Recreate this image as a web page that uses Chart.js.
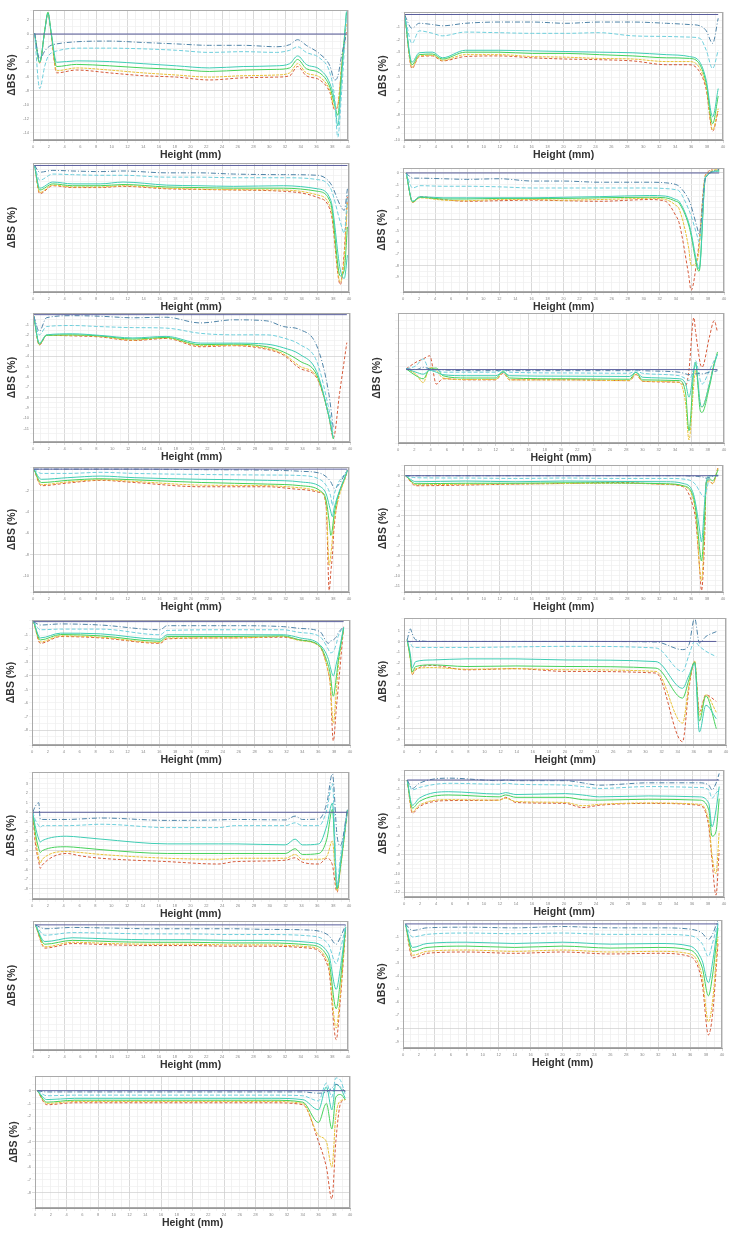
<!DOCTYPE html>
<html>
<head>
<meta charset="utf-8">
<script src="https://cdn.jsdelivr.net/npm/chart.js@4.4.1/dist/chart.umd.min.js"></script>
<style>
  body { margin: 0; background: #fff; }
  #page { position: relative; width: 733px; height: 1241px; overflow: hidden; }
  .panel { position: absolute; }
</style>
</head>
<body>
<div id="page"></div>
<script>
// heights (mm) and delta BS (%); series go blue, cyan, teal, green, orange, red
const p1x = [0.2, 0.85, 1.5, 1.9, 2.3, 3.0, 5.5, 9.7, 14, 18.2, 22.4, 26.7, 30.9, 32.6, 33.6, 34.7, 36.4, 37.7, 38.3, 38.7, 39.2, 39.8];
const p1b = [0.1, -3.5, -2.4, -1.9, -1.6, -1.4, -1.1, -1.0, -1.2, -1.4, -1.6, -1.6, -1.8, -1.5, -0.8, -1.6, -2.8, -4.5, -6.5, -6.0, -3.0, 0.2];
const p1c = [0.1, -7.7, -4.5, -3.2, -2.7, -2.4, -2.0, -2.0, -2.1, -2.3, -2.6, -2.5, -2.6, -2.3, -1.8, -2.6, -3.4, -5.5, -9.0, -14.6, -8.0, 2.6];
const p1t = [0.1, -4.0, 0.5, 2.9, 0.3, -4.0, -3.8, -3.9, -4.2, -4.5, -4.8, -4.6, -4.5, -4.2, -3.1, -4.3, -5.0, -7.0, -9.5, -13.0, -6.0, 3.2];
const p1g = [0.1, -4.0, 0.6, 3.1, 0.2, -4.6, -4.3, -4.5, -4.8, -5.0, -5.3, -5.1, -5.0, -4.8, -3.6, -4.9, -5.5, -7.5, -10.0, -11.5, -5.0, 3.0];
const p1o = [0.1, -4.1, 0.6, 3.0, 0.1, -5.2, -4.8, -5.1, -5.5, -5.8, -6.1, -5.9, -5.8, -5.5, -4.2, -5.5, -6.1, -8.0, -10.5, -10.0, -4.5, 1.5];
const p1r = [0.1, -4.1, 0.5, 2.9, 0.0, -5.5, -5.1, -5.5, -5.9, -6.1, -6.5, -6.2, -6.1, -5.9, -4.6, -5.9, -6.5, -8.3, -10.7, -10.2, -4.6, 0.5];

const p2x = [0.1, 1.0, 1.9, 3.6, 4.8, 7.7, 11.9, 16.1, 20.3, 24.5, 28.7, 32.9, 35.8, 37.1, 37.9, 38.7, 39.4];
const p2b = [-0.07, -1.1, -0.7, -0.8, -0.9, -0.7, -0.6, -0.6, -0.7, -0.6, -0.6, -0.7, -0.8, -0.9, -1.3, -2.3, -0.3];
const p2c = [-0.07, -2.3, -1.3, -1.5, -1.7, -1.4, -1.45, -1.5, -1.5, -1.45, -1.7, -1.75, -1.8, -1.9, -2.85, -4.3, -2.85];
const p2t = [-0.07, -3.8, -3.05, -3.0, -3.45, -2.85, -2.85, -2.9, -2.95, -3.0, -3.05, -3.2, -3.35, -3.8, -5.25, -8.15, -5.9];
const p2g = [-0.07, -4.0, -3.2, -3.15, -3.55, -3.0, -3.0, -3.1, -3.1, -3.2, -3.3, -3.45, -3.5, -4.0, -5.5, -8.7, -6.5];
const p2o = [-0.07, -4.2, -3.3, -3.25, -3.65, -3.2, -3.2, -3.35, -3.4, -3.5, -3.55, -3.75, -3.75, -4.3, -5.8, -9.2, -7.5];
const p2r = [-0.07, -4.3, -3.35, -3.3, -3.7, -3.35, -3.3, -3.45, -3.55, -3.6, -3.7, -4.0, -4.0, -4.6, -6.0, -9.3, -7.7];

const p3x = [0.2, 0.85, 2.5, 5, 8.5, 11.4, 16.9, 21, 25.4, 31.7, 36, 37.7, 38.9, 39.4, 39.8];
const p3b = [0, -0.55, -0.4, -0.45, -0.5, -0.45, -0.6, -0.6, -0.7, -0.75, -0.8, -1.5, -3.25, -3.65, -1.9];
const p3c = [0, -1.2, -0.7, -0.75, -0.8, -0.8, -0.95, -0.95, -1.0, -1.0, -1.15, -1.9, -4.6, -5.5, -2.4];
const p3t = [0, -1.85, -1.35, -1.5, -1.5, -1.35, -1.6, -1.65, -1.7, -1.65, -1.9, -2.85, -8.5, -9.2, -7.3];
const p3g = [0, -2.0, -1.5, -1.65, -1.65, -1.55, -1.75, -1.8, -1.85, -1.85, -2.1, -3.1, -9.0, -8.5, -5.0];
const p3o = [0, -2.2, -1.6, -1.75, -1.75, -1.65, -1.85, -1.92, -1.97, -2.0, -2.4, -3.5, -9.5, -7.5, -3.0];
const p3r = [0, -2.3, -1.65, -1.8, -1.8, -1.7, -1.9, -1.95, -2.0, -2.1, -2.6, -3.8, -9.7, -7.0, -2.4];

const p4x = [0.4, 1.2, 2.1, 5, 7.9, 12, 16.2, 20, 24.5, 30.7, 32.7, 34, 34.4, 35.6, 35.9, 36.7, 36.9, 37.7, 39.4];
const p4b = [0, -0.45, -0.45, -0.5, -0.55, -0.5, -0.7, -0.7, -0.8, -0.8, -0.85, -1.0, -1.15, -2.3, -2.85, -4.85, -5.3, -0.45, 0.3];
const p4c = [0, -1.3, -1.1, -1.15, -1.15, -1.2, -1.3, -1.3, -1.3, -1.3, -1.35, -1.45, -1.55, -3.15, -3.7, -5.55, -6.0, -0.3, 0.15];
const p4t = [0, -2.45, -2.05, -2.15, -2.15, -2.15, -2.15, -2.1, -2.05, -1.95, -2.0, -2.3, -2.45, -4.3, -5.15, -8.0, -8.3, -0.35, 0.15];
const p4g = [0, -2.5, -2.1, -2.25, -2.25, -2.2, -2.2, -2.2, -2.15, -2.1, -2.15, -2.45, -2.6, -4.5, -5.4, -8.3, -8.5, -0.4, 0.2];
const p4o = [0, -2.55, -2.15, -2.35, -2.4, -2.3, -2.3, -2.35, -2.3, -2.2, -2.3, -2.8, -3.1, -6.5, -8.0, -7.5, -6.5, -0.2, 0.3];
const p4r = [0, -2.55, -2.05, -2.3, -2.45, -2.4, -2.35, -2.4, -2.45, -2.3, -2.45, -3.7, -4.3, -8.85, -10.15, -7.15, -6.0, -0.15, 0.45];

const p5x = [0.1, 0.8, 1.7, 5, 8.4, 12.6, 16.8, 21.1, 25.3, 29.5, 31.6, 33.7, 35.8, 37.3, 37.9, 38.7, 39.6];
const p5b = [-0.15, -1.6, -0.3, -0.1, -0.15, -0.3, -0.25, -0.8, -0.5, -0.6, -1.15, -1.45, -3.0, -7.5, -11.0, null, null];
const p5c = [-0.15, -1.95, -1.15, -1.05, -1.15, -1.25, -1.3, -1.8, -1.95, -1.95, -2.25, -2.9, -4.5, -9.0, -11.45, null, null];
const p5t = [-0.15, -2.75, -1.95, -1.85, -2.0, -2.25, -2.1, -2.75, -2.75, -2.85, -3.2, -3.85, -5.5, -9.7, -11.95, null, null];
const p5g = [-0.15, -2.85, -2.0, -1.95, -2.05, -2.35, -2.2, -2.9, -2.85, -3.1, -3.6, -4.5, -5.8, -9.7, -12.0, null, null];
const p5o = [-0.15, -2.9, -2.0, -2.0, -2.1, -2.45, -2.25, -3.0, -2.95, -3.25, -3.8, -5.0, -6.0, -9.7, -12.0, null, null];
const p5r = [-0.15, -2.95, -2.0, -2.05, -2.15, -2.5, -2.3, -3.1, -3.0, -3.35, -3.9, -5.2, -6.1, -9.7, -11.9, -7.5, -2.7];

const p6x = [1.0, 2.2, 3.1, 3.9, 4.7, 5.5, 8.4, 12, 12.9, 13.7, 20.6, 28.4, 29.2, 30, 34.5, 35.3, 35.7, 36.3, 36.5, 37.1, 37.3, 38.2, 38.8, 39.2];
const p6b = [0.05, 0, 0.15, 0.05, 0, -0.02, -0.07, -0.07, -0.02, -0.07, -0.07, -0.07, -0.02, -0.07, -0.17, -0.28, -0.33, -0.28, -0.28, -0.24, -0.28, -0.17, -0.13, -0.07];
const p6c = [0.05, 0.25, 0.7, -0.05, -0.05, -0.17, -0.17, -0.17, -0.02, -0.17, -0.22, -0.24, -0.07, -0.24, -0.4, -0.6, -0.72, 0.15, 0.6, -0.72, -0.95, -0.07, 0.6, 1.0];
const p6t = [0.05, -0.17, -0.3, -0.05, -0.17, -0.33, -0.4, -0.4, -0.17, -0.4, -0.43, -0.45, -0.17, -0.5, -0.6, -0.95, -1.8, -0.05, 0.35, -2.25, -2.45, -0.95, 0.35, 1.0];
const p6g = [0.05, -0.4, -0.6, 0.05, 0.1, -0.4, -0.55, -0.55, -0.1, -0.55, -0.6, -0.63, -0.17, -0.67, -0.72, -1.6, -4.0, -0.05, 0.48, -2.7, -2.8, -1.15, 0.35, 1.15];
const p6o = [0.05, -0.3, -0.85, 0.15, -0.05, -0.55, -0.65, -0.65, -0.17, -0.67, -0.67, -0.72, -0.28, -0.76, -0.83, -2.25, -4.6, -0.95, -0.05, -2.25, -2.45, -0.95, 0.48, 1.0];
const p6r = [0.05, 0.48, 0.7, 0.9, -0.95, -0.6, -0.67, -0.67, -0.24, -0.67, -0.67, -0.72, -0.33, -0.76, -0.83, -1.05, -0.05, 3.4, 2.55, 0.37, 0.15, 2.1, 3.2, 2.45];

const p7x = [0.1, 1.05, 4.4, 8.6, 12.8, 21.3, 29.7, 33.9, 36.4, 37.1, 37.5, 37.7, 37.9, 38.1, 39.8];
const p7b = [0, 0, 0, 0, 0, -0.05, -0.1, -0.2, -0.4, -0.7, -1.0, -1.2, -1.5, -1.8, -0.1];
const p7c = [0, -0.4, -0.4, -0.3, -0.4, -0.5, -0.55, -0.6, -1.0, -1.5, -2.1, -2.6, -3.4, -2.45, -0.1];
const p7t = [0, -0.95, -0.8, -0.65, -0.8, -0.95, -1.05, -1.2, -1.65, -2.3, -3.4, -4.0, -4.45, -3.7, -0.1];
const p7g = [0, -1.25, -1.05, -0.9, -1.0, -1.25, -1.4, -1.55, -2.05, -2.9, -4.95, -6.2, -5.6, -4.3, -0.1];
const p7o = [0, -1.45, -1.2, -1.0, -1.15, -1.5, -1.55, -1.75, -2.15, -3.2, -9.0, -8.0, -6.5, -5.0, -0.1];
const p7r = [0, -1.55, -1.3, -1.05, -1.25, -1.65, -1.65, -1.9, -2.2, -3.4, -11.35, -9.6, -8.05, -5.55, -0.1];

const p8x = [0.2, 1.5, 7.7, 14, 20.3, 26.6, 32.9, 35, 36.2, 36.6, 37.1, 37.3, 37.7, 37.9, 38.3, 38.7, 39.4];
const p8b = [0, 0, 0, 0, 0, 0, 0, 0, -0.05, -0.05, -0.1, -0.1, -0.2, -0.25, -0.15, -0.05, 0];
const p8c = [0, -0.2, -0.23, -0.27, -0.23, -0.27, -0.27, -0.33, -0.6, -0.93, -1.6, -1.87, -2.1, -1.6, -0.2, 0, 0];
const p8t = [0, -0.6, -0.53, -0.6, -0.53, -0.57, -0.6, -0.77, -1.6, -2.93, -5.6, -6.6, -2.6, -0.6, 0, 0, 0.07];
const p8g = [0, -0.8, -0.75, -0.75, -0.7, -0.72, -0.8, -1.0, -1.9, -3.5, -7.5, -8.5, -4.0, -0.8, -0.3, -0.5, 0.6];
const p8o = [0, -0.9, -0.85, -0.82, -0.78, -0.75, -0.85, -1.05, -2.2, -4.0, -9.5, -10.5, -5.0, -0.7, -0.6, -0.8, 0.8];
const p8r = [0, -1.0, -0.93, -0.83, -0.77, -0.67, -0.87, -1.1, -2.93, -4.6, -9.6, -11.45, -6.25, -0.6, -0.43, -0.77, 0.9];

const p9x = [0.2, 1.05, 3.6, 8.6, 16.1, 17, 25.3, 31.6, 33.7, 36.2, 37.3, 37.5, 37.9, 38.3, 38.5, 39.2];
const p9b = [0, -0.25, -0.17, -0.25, -0.6, -0.3, -0.3, -0.37, -0.5, -0.73, -1.6, -1.45, -1.35, -1.1, -0.85, -0.37];
const p9c = [0, -0.6, -0.55, -0.55, -0.97, -0.65, -0.6, -0.6, -0.8, -1.1, -2.07, -2.3, -2.2, -1.6, -1.1, -0.4];
const p9t = [0, -1.2, -0.85, -0.9, -1.3, -0.97, -0.97, -0.97, -1.2, -1.7, -2.8, -3.3, -4.0, -3.05, -2.55, -0.4];
const p9g = [0, -1.35, -0.95, -1.05, -1.45, -1.1, -1.1, -1.05, -1.35, -1.8, -3.3, -3.8, -5.5, -4.0, -3.0, -0.5];
const p9o = [0, -1.5, -1.05, -1.15, -1.55, -1.2, -1.2, -1.1, -1.4, -1.85, -3.8, -4.5, -7.5, -5.0, -3.5, -0.45];
const p9r = [0, -1.6, -1.1, -1.2, -1.6, -1.27, -1.2, -1.15, -1.35, -1.85, -3.8, -4.5, -8.8, -6.25, -5.0, -0.37];

const p10x = [0.4, 0.8, 1.0, 1.45, 3.5, 7.7, 13.9, 20.1, 31.3, 34.6, 35.4, 36.1, 36.7, 37.5, 38.8];
const p10b = [0.15, 1.15, 0.75, 0.15, 0, 0, 0, 0, -0.05, -0.75, -0.3, 2.15, -0.15, 0.45, 0.9];
const p10c = [0.15, -0.15, -0.45, -0.55, -0.55, -0.55, -0.5, -0.45, -0.6, -2.75, -1.25, 0, -0.45, -0.9, -1.4];
const p10t = [0.15, -1.25, -2.45, -1.85, -1.7, -1.6, -1.6, -1.7, -1.85, -4.3, -3.1, -2.0, -8.3, -5.85, -7.1];
const p10g = [0.15, -1.6, -2.8, -2.3, -2.15, -2.3, -2.25, -2.3, -2.45, -5.2, -3.5, -1.9, -7.3, -5.0, -8.0];
const p10o = [0.15, -1.8, -3.0, -2.5, -2.4, -2.55, -2.5, -2.6, -2.75, -7.5, -4.0, -1.8, -6.8, -4.9, -6.5];
const p10r = [0.15, -1.55, -3.05, -2.6, -2.2, -2.6, -2.5, -2.75, -2.9, -9.2, -4.3, -1.85, -6.45, -4.9, -5.5];

const p11x = [0.1, 0.4, 0.85, 1.05, 1.3, 4.4, 6.1, 8.7, 17.1, 23.5, 25.6, 32, 33.2, 34.1, 36.2, 37.2, 37.9, 38.5, 38.9, 39.8];
const p11b = [0, 0.6, 1.0, -0.75, -0.75, -0.75, -0.7, -0.6, -0.85, -0.8, -0.75, -0.8, -0.4, -0.75, -0.7, 0.95, 4.0, -2.5, -3.5, 0.3];
const p11c = [0, -0.75, -1.4, -1.6, -1.4, -1.4, -1.35, -1.25, -1.6, -1.6, -1.4, -1.4, -1.1, -1.4, -1.4, 0.25, 3.0, -7.5, -4.8, 0.1];
const p11t = [0, -1.4, -2.8, -3.1, -2.95, -2.5, -2.6, -2.8, -3.3, -3.3, -3.3, -3.4, -2.8, -3.4, -3.3, -1.4, 0.95, -7.85, -5.5, 0.25];
const p11g = [0, -2.0, -3.8, -4.2, -4.0, -3.6, -3.7, -3.9, -4.3, -4.3, -4.3, -4.3, -3.8, -4.4, -4.3, -2.8, 0.3, -8.0, -5.8, 0.2];
const p11o = [0, -2.4, -4.8, -5.3, -4.9, -4.1, -4.2, -4.4, -4.8, -4.9, -4.8, -4.8, -4.4, -4.9, -4.9, -4.6, -3.0, -8.2, -6.0, 0.1];
const p11r = [0, -3.1, -5.15, -5.85, -5.5, -4.3, -4.55, -4.8, -5.15, -5.4, -5.15, -5.0, -4.75, -5.2, -5.4, -4.8, -5.5, -8.35, -5.85, 0.25];

const p12x = [0.4, 1.05, 1.9, 5.6, 11.9, 12.7, 14, 20.2, 22.3, 24.4, 30.6, 36.9, 38.1, 38.5, 39, 39.4];
const p12b = [0, -0.9, -0.35, 0.2, -0.07, 0, -0.07, -0.07, -0.3, -0.55, -0.3, -0.3, -0.55, -1.05, -0.35, 0.7];
const p12c = [0, -1.05, -0.8, -0.35, -0.45, -0.35, -0.45, -0.55, -0.7, -0.9, -0.7, -0.8, -1.05, -1.95, -1.4, -1.05];
const p12t = [0, -2.7, -1.95, -1.25, -1.5, -1.35, -1.55, -1.45, -1.6, -1.8, -1.7, -1.8, -2.5, -5.0, -3.2, -0.7];
const p12g = [0, -3.0, -2.3, -1.6, -1.8, -1.6, -1.85, -1.85, -2.1, -2.15, -2.05, -2.15, -3.2, -6.0, -5.5, -2.0];
const p12o = [0, -3.4, -2.7, -2.1, -2.15, -1.95, -2.3, -2.4, -2.75, -2.6, -2.45, -2.6, -4.5, -8.0, -10.0, -5.5];
const p12r = [0, -3.55, -2.85, -2.2, -2.15, -1.85, -2.4, -2.5, -2.95, -2.7, -2.5, -2.7, -5.0, -8.55, -12.3, -7.5];

const p13x = [0.3, 1.5, 5, 10, 15, 20, 25, 30, 35, 37.5, 38.5, 39, 39.7];
const p13b = [0, -0.3, -0.2, -0.25, -0.3, -0.3, -0.3, -0.35, -0.4, -0.8, -1.5, -1.0, 0];
const p13c = [0, -0.8, -0.6, -0.65, -0.7, -0.7, -0.75, -0.75, -0.85, -1.5, -3.0, -2.0, -0.1];
const p13t = [0, -1.3, -1.0, -1.1, -1.15, -1.15, -1.2, -1.2, -1.35, -2.2, -5.0, -3.5, -0.2];
const p13g = [0, -1.5, -1.2, -1.3, -1.35, -1.35, -1.4, -1.4, -1.55, -2.6, -6.5, -4.5, -0.2];
const p13o = [0, -1.7, -1.35, -1.45, -1.5, -1.5, -1.55, -1.55, -1.7, -3.0, -8.0, -5.5, -0.3];
const p13r = [0, -1.8, -1.45, -1.55, -1.6, -1.6, -1.65, -1.65, -1.8, -3.3, -8.9, -6.0, -0.3];

const p14x = [0.3, 1.2, 3, 8, 14, 20, 26, 32, 36, 37.5, 38.3, 38.8, 39.5];
const p14b = [0, -0.5, -0.3, -0.25, -0.3, -0.2, -0.3, -0.3, -0.4, -0.7, -1.2, -0.8, 0.3];
const p14c = [0, -1.0, -0.8, -0.7, -0.75, -0.7, -0.8, -0.8, -0.9, -1.5, -2.5, -1.5, 0.1];
const p14t = [0, -1.8, -1.5, -1.4, -1.5, -1.4, -1.55, -1.5, -1.7, -2.8, -4.5, -3.0, 0];
const p14g = [0, -2.1, -1.8, -1.7, -1.8, -1.7, -1.85, -1.8, -2.0, -3.3, -5.5, -4.0, -0.3];
const p14o = [0, -2.4, -2.1, -2.0, -2.1, -2.0, -2.15, -2.1, -2.3, -4.0, -7.5, -6.0, -1.0];
const p14r = [0, -2.6, -2.25, -2.15, -2.25, -2.15, -2.3, -2.25, -2.5, -4.5, -8.5, -7.0, -1.5];

const p15x = [0.3, 1.5, 5, 10, 15, 20, 25, 30, 34, 36, 37, 37.7, 38.2, 38.8, 39.4];
const p15b = [0, -0.1, -0.1, -0.1, -0.1, -0.1, -0.1, -0.1, -0.1, -0.2, -0.1, 0.2, 0.5, 0.3, -0.1];
const p15c = [0, -0.4, -0.35, -0.35, -0.35, -0.35, -0.35, -0.35, -0.4, -0.8, 0.6, -0.5, 1.0, 0.8, -0.3];
const p15t = [0, -0.7, -0.6, -0.6, -0.6, -0.6, -0.6, -0.6, -0.7, -1.5, 0.3, -1.5, 0.5, 0.2, -0.6];
const p15g = [0, -0.9, -0.75, -0.75, -0.75, -0.75, -0.75, -0.75, -0.9, -2.5, -1.0, -3.0, -0.5, -0.3, -0.7];
const p15o = [0, -1.0, -0.85, -0.85, -0.85, -0.85, -0.85, -0.85, -1.0, -3.5, -4.0, -6.0, -2.0, -0.8, -0.7];
const p15r = [0, -1.1, -0.95, -0.95, -0.95, -0.95, -0.95, -0.95, -1.1, -4.0, -6.0, -8.5, -4.0, -1.0, -0.7];

// axis ranges [min, max, label step]
const yRanges = [
  [-15, 3.4, 2], [-10, 0.2, 1], [-10.3, 0.2, 1], [-10.3, 0.43, 1], [-12.3, 0.16, 1],
  [-4.8, 3.7, 1], [-11.5, 0.2, 2], [-11.6, 1.07, 1], [-9.1, 0.12, 1], [-9.5, 2.15, 1],
  [-9.05, 4.2, 1], [-12.5, 1.07, 1], [-9.7, 0.3, 1], [-9.5, 0.3, 1], [-9.2, 1.15, 1]
];

// plot area boxes on the page: left, top, right, bottom
const boxes = [
  [33, 10, 348, 140], [404, 12, 723, 140],
  [33, 163, 349, 292], [403, 168, 724, 292],
  [33, 313, 350, 442], [398, 313, 724, 443],
  [33, 467, 349, 592], [404, 465, 723, 592],
  [32, 620, 350, 745], [404, 618, 726, 745],
  [32, 772, 349, 899], [404, 770, 724, 897],
  [33, 921, 348, 1050], [403, 920, 722, 1048],
  [35, 1076, 350, 1208]
];

const panelData = [
  [p1x, p1b, p1c, p1t, p1g, p1o, p1r], [p2x, p2b, p2c, p2t, p2g, p2o, p2r],
  [p3x, p3b, p3c, p3t, p3g, p3o, p3r], [p4x, p4b, p4c, p4t, p4g, p4o, p4r],
  [p5x, p5b, p5c, p5t, p5g, p5o, p5r], [p6x, p6b, p6c, p6t, p6g, p6o, p6r],
  [p7x, p7b, p7c, p7t, p7g, p7o, p7r], [p8x, p8b, p8c, p8t, p8g, p8o, p8r],
  [p9x, p9b, p9c, p9t, p9g, p9o, p9r], [p10x, p10b, p10c, p10t, p10g, p10o, p10r],
  [p11x, p11b, p11c, p11t, p11g, p11o, p11r], [p12x, p12b, p12c, p12t, p12g, p12o, p12r],
  [p13x, p13b, p13c, p13t, p13g, p13o, p13r], [p14x, p14b, p14c, p14t, p14g, p14o, p14r],
  [p15x, p15b, p15c, p15t, p15g, p15o, p15r]
];

const lineColors = ['#4f84a8', '#6fcfdc', '#3fcdb4', '#45d15a', '#e9c23a', '#d65a3a'];
const lineDash = [[5, 2, 1, 2], [4, 2], [], [], [3, 1], [3, 2]];
const FONT = "'Liberation Sans', Arial, sans-serif";

const Y_AXIS_W = 31, X_AXIS_H = 22;

const frame = {
  id: 'frame',
  afterDraw(chart) {
    const a = chart.chartArea, c = chart.ctx;
    c.save();
    c.strokeStyle = '#aaa';
    c.lineWidth = 1;
    c.strokeRect(a.left + 0.5, a.top + 0.5, a.right - a.left - 1, a.bottom - a.top - 1);
    c.restore();
  }
};

function onStep(v, step) {
  return Math.abs(v / step - Math.round(v / step)) < 1e-6;
}

const page = document.getElementById('page');

panelData.forEach((pd, i) => {
  const [L, T, R, B] = boxes[i];
  const [yMin, yMax, yStep] = yRanges[i];
  const xs = pd[0];

  const div = document.createElement('div');
  div.className = 'panel';
  div.style.left = (L - Y_AXIS_W) + 'px';
  div.style.top = (T - 4) + 'px';
  div.style.width = (R - L + Y_AXIS_W + 6) + 'px';
  div.style.height = (B - T + X_AXIS_H + 4) + 'px';
  const cv = document.createElement('canvas');
  div.appendChild(cv);
  page.appendChild(div);

  const datasets = [{
    data: [{x: xs[0], y: 0}, {x: xs[xs.length - 1], y: 0}],
    borderColor: '#5a5e9c', borderWidth: 1, pointRadius: 0
  }];
  for (let s = 1; s < pd.length; s++) {
    datasets.push({
      data: xs.map((x, k) => ({x: x, y: pd[s][k]})),
      borderColor: lineColors[s - 1],
      borderWidth: 1,
      borderDash: lineDash[s - 1],
      pointRadius: 0,
      cubicInterpolationMode: 'monotone',
      spanGaps: false
    });
  }

  new Chart(cv, {
    type: 'line',
    data: {datasets: datasets},
    options: {
      responsive: true,
      maintainAspectRatio: false,
      animation: false,
      layout: {padding: {top: 4, right: 6, left: 0, bottom: 0}},
      plugins: {legend: {display: false}, tooltip: {enabled: false}},
      scales: {
        x: {
          type: 'linear', min: 0, max: 40,
          ticks: {
            stepSize: 1, autoSkip: false, maxRotation: 0, padding: 1,
            font: {size: 4, family: FONT}, color: '#888',
            callback: v => (v % 2 === 0 ? v : '')
          },
          grid: {
            color: c => (c.tick && c.tick.value % 4 === 0 ? '#c9c9c9' : '#ececec'),
            lineWidth: 0.7, tickLength: 3
          },
          border: {color: '#999'},
          title: {
            display: true, text: 'Height (mm)', color: '#333',
            font: {size: 10.5, weight: 'bold', family: FONT},
            padding: {top: 0, bottom: 1}
          },
          afterFit: s => { s.height = X_AXIS_H; }
        },
        y: {
          min: yMin, max: yMax,
          ticks: {
            stepSize: yStep / 2, autoSkip: false, maxTicksLimit: 200, padding: 1,
            font: {size: 4, family: FONT}, color: '#888',
            callback: v => (onStep(v, yStep) ? v : '')
          },
          grid: {
            color: c => (c.tick && onStep(c.tick.value, yStep * 4) ? '#cfcfcf' : '#efefef'),
            lineWidth: 0.7, tickLength: 3
          },
          border: {color: '#999'},
          title: {
            display: true, text: 'ΔBS (%)', color: '#333',
            font: {size: 10.5, weight: 'bold', family: FONT},
            padding: {top: 4, bottom: 0}
          },
          afterFit: s => { s.width = Y_AXIS_W; }
        }
      }
    },
    plugins: [frame]
  });
});
</script>
</body>
</html>
